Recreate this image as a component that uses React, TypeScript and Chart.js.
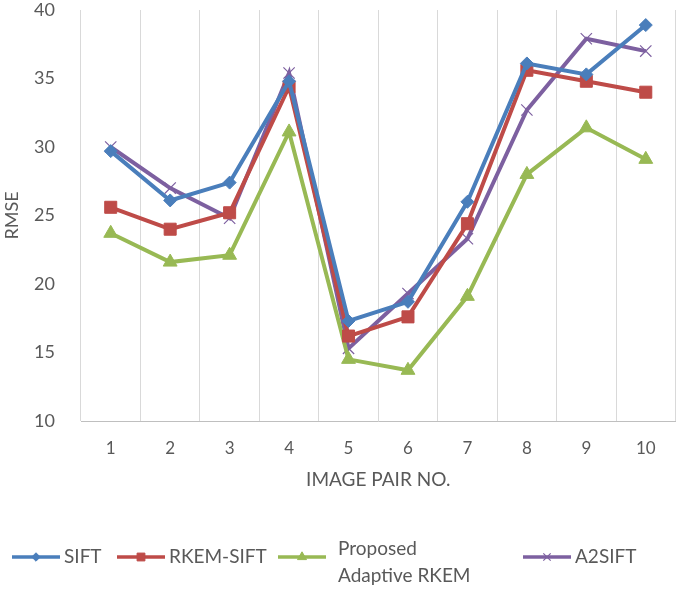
import React, { useEffect, useRef } from "react";
import { Chart, registerables } from "chart.js";
import { drawPoint } from "chart.js/helpers";

Chart.register(...registerables);

const categories = ["1", "2", "3", "4", "5", "6", "7", "8", "9", "10"];
const siftValues = [29.7, 26.1, 27.4, 34.8, 17.3, 18.7, 26.0, 36.1, 35.3, 38.9];
const rkemValues = [25.6, 24.0, 25.2, 34.4, 16.2, 17.6, 24.4, 35.6, 34.8, 34.0];
const proposedValues = [23.7, 21.6, 22.1, 31.1, 14.5, 13.7, 19.1, 28.0, 31.4, 29.1];
const a2siftValues = [30.0, 27.0, 24.8, 35.4, 15.3, 19.3, 23.3, 32.7, 37.9, 37.0];
const seriesNames = ["SIFT", "RKEM-SIFT", ["Proposed", "Adaptive RKEM"], "A2SIFT"];
const yTicks = { min: 10, max: 40, step: 5 };

const FONT = "Lato, 'Liberation Sans', sans-serif";
const TEXT = "#595959";

const legendPlugin = {
  id: "customLegend",
  afterDraw(chart: any) {
    const ctx = chart.ctx;
    const starts = [12, 117, 278, 523];
    const y = 557;
    ctx.save();
    chart.data.datasets.forEach((ds: any, i: number) => {
      const x0 = starts[i];
      ctx.strokeStyle = ds.borderColor;
      ctx.lineWidth = 3.5;
      ctx.beginPath();
      ctx.moveTo(x0, y);
      ctx.lineTo(x0 + 48, y);
      ctx.stroke();
      ctx.fillStyle = ds.pointBackgroundColor;
      ctx.strokeStyle = ds.pointBorderColor;
      ctx.lineWidth = ds.pointBorderWidth;
      drawPoint(ctx, { pointStyle: ds.pointStyle, radius: ds.pointRadius * 0.65, borderWidth: ds.pointBorderWidth, rotation: 0 }, x0 + 24, y);
      ctx.fillStyle = TEXT;
      ctx.font = `19px ${FONT}`;
      ctx.textBaseline = "middle";
      ctx.textAlign = "left";
      const lines = Array.isArray(seriesNames[i]) ? (seriesNames[i] as string[]) : [seriesNames[i] as string];
      const tx = i === 2 ? x0 + 60 : x0 + 52;
      const ty = i === 2 ? y - 8 : y;
      lines.forEach((t, k) => ctx.fillText(t, tx, ty + k * 27));
    });
    ctx.restore();
  },
};

export default function App() {
  const ref = useRef<HTMLCanvasElement>(null);
  useEffect(() => {
    document.body.style.margin = "0";
    const colors = ["#4A7EBB", "#BE4B48", "#98B954", "#7D60A0"];
    const styles = ["rectRot", "rect", "triangle", "crossRot"];
    const radii = [6.5, 8.5, 8, 8];
    const values = [siftValues, rkemValues, proposedValues, a2siftValues];
    const chart = new Chart(ref.current!, {
      type: "line",
      data: {
        labels: categories,
        datasets: values.map((v, i) => ({
          label: Array.isArray(seriesNames[i]) ? (seriesNames[i] as string[]).join(" ") : (seriesNames[i] as string),
          data: v,
          borderColor: colors[i],
          backgroundColor: colors[i],
          pointBackgroundColor: colors[i],
          pointBorderColor: colors[i],
          pointBorderWidth: i === 3 ? 1.2 : 1,
          borderWidth: 4,
          pointStyle: styles[i],
          pointRadius: radii[i],
          tension: 0,
        })),
      },
      options: {
        animation: false,
        responsive: false,
        layout: { padding: { left: 0, right: 2, top: 0, bottom: 104 } },
        plugins: { legend: { display: false }, tooltip: { enabled: false } },
        scales: {
          x: {
            offset: true,
            afterFit: (s: any) => { s.height = 70; s.paddingLeft = 0; s.paddingRight = 0; },
            grid: { offset: true, color: "#D9D9D9", lineWidth: 1, drawTicks: false },
            border: { color: "#BFBFBF", width: 1 },
            ticks: { color: TEXT, font: { family: FONT, size: 17 }, padding: 17 },
            title: { display: true, text: "IMAGE PAIR NO.", color: TEXT, font: { family: FONT, size: 19 }, padding: { top: 0, bottom: 0 } },
          },
          y: {
            min: yTicks.min,
            max: yTicks.max,
            afterFit: (s: any) => { s.width = 81; s.paddingTop = 10; s.paddingBottom = 0; },
            grid: { display: false, drawTicks: false },
            border: { display: false },
            ticks: { stepSize: yTicks.step, color: TEXT, font: { family: FONT, size: 18 }, padding: 26 },
            title: { display: true, text: "RMSE", color: TEXT, font: { family: FONT, size: 18 }, padding: { top: 1, bottom: 0 } },
          },
        },
      },
      plugins: [legendPlugin],
    });
    return () => chart.destroy();
  }, []);
  return <canvas ref={ref} width={685} height={595} style={{ display: "block" }} />;
}
